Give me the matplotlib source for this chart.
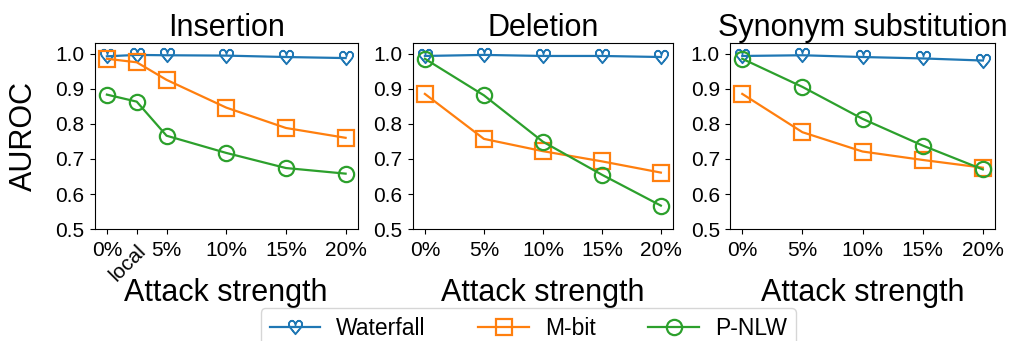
import matplotlib
matplotlib.use("Agg")
import matplotlib.pyplot as plt

plt.rcParams['font.family'] = ['Liberation Sans', 'DejaVu Sans']

titles = ["Insertion", "Deletion", "Synonym substitution"]
series_names = ["Waterfall", "M-bit", "P-NLW"]
colors = ["#1f77b4", "#ff7f0e", "#2ca02c"]

x_ins = [0, 2.5, 5, 10, 15, 20]
xt_ins = ["0%", "local", "5%", "10%", "15%", "20%"]
x_std = [0, 5, 10, 15, 20]
xt_std = ["0%", "5%", "10%", "15%", "20%"]

ins_waterfall = [0.992, 0.996, 0.995, 0.994, 0.990, 0.987]
ins_mbit = [0.985, 0.975, 0.925, 0.846, 0.788, 0.760]
ins_pnlw = [0.883, 0.863, 0.766, 0.717, 0.674, 0.658]

del_waterfall = [0.993, 0.996, 0.993, 0.993, 0.990]
del_mbit = [0.885, 0.757, 0.722, 0.693, 0.661]
del_pnlw = [0.985, 0.881, 0.749, 0.655, 0.567]

syn_waterfall = [0.993, 0.995, 0.990, 0.986, 0.980]
syn_mbit = [0.885, 0.776, 0.721, 0.697, 0.675]
syn_pnlw = [0.985, 0.905, 0.814, 0.738, 0.670]

panels = [
    (x_ins, xt_ins, [ins_waterfall, ins_mbit, ins_pnlw]),
    (x_std, xt_std, [del_waterfall, del_mbit, del_pnlw]),
    (x_std, xt_std, [syn_waterfall, syn_mbit, syn_pnlw]),
]

fig = plt.figure(figsize=(10.10, 3.41), dpi=100)
positions = [(0.094, 0.328, 0.260, 0.546),
             (0.409, 0.328, 0.257, 0.546),
             (0.723, 0.328, 0.262, 0.546)]
markers = [r'$\heartsuit$', 's', 'o']
msizes = [10, 11, 11]

handles = []
for i, (pos, (xs, xts, ys)) in enumerate(zip(positions, panels)):
    ax = fig.add_axes(pos)
    for j, y in enumerate(ys):
        if j == 0:
            h, = ax.plot(xs, y, color=colors[j], marker=markers[j], ms=msizes[j],
                         lw=1.6, label=series_names[j])
        else:
            h, = ax.plot(xs, y, color=colors[j], marker=markers[j], ms=msizes[j],
                         mfc='none', mew=1.6, lw=1.6, label=series_names[j])
        if i == 0:
            handles.append(h)
    ax.set_ylim(0.5, 1.03)
    ax.set_xlim(-1, 21)
    ax.set_yticks([0.5, 0.6, 0.7, 0.8, 0.9, 1.0])
    ax.set_yticklabels(["0.5", "0.6", "0.7", "0.8", "0.9", "1.0"])
    ax.set_xticks(xs)
    ax.set_xticklabels(xts)
    ax.tick_params(labelsize=15, length=3.5)
    ax.tick_params(axis='x', pad=5)
    ax.tick_params(axis='y', pad=4)
    ax.set_title(titles[i], fontsize=22, pad=5)
    ax.set_xlabel("Attack strength", fontsize=22)
    ax.xaxis.set_label_coords(0.5, -0.265)
    if i == 0:
        ax.set_ylabel("AUROC", fontsize=22)
        ax.yaxis.set_label_coords(-0.215, 0.5)
        for lab in ax.get_xticklabels():
            if lab.get_text() == "local":
                lab.set_rotation(45)
                lab.set_ha('right')
                lab.set_va('top')
                lab.set_rotation_mode('anchor')

fig.legend(handles=handles, loc='upper center', ncol=3, fontsize=16.5,
           bbox_to_anchor=(0.523, 0.097), columnspacing=2.3, handlelength=2.2,
           handletextpad=0.7, frameon=True, borderaxespad=0)

fig.savefig("out.png", dpi=100)
